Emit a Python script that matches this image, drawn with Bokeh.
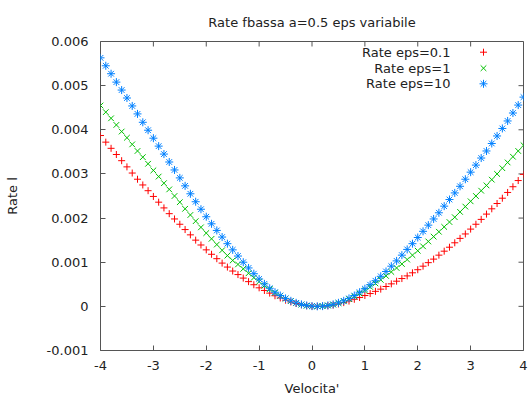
from bokeh.plotting import figure
from bokeh.models import (ColumnDataSource, LinearAxis, FixedTicker,
                          CustomJSTickFormatter, Range1d)
from bokeh.embed import file_html
from bokeh.resources import INLINE
from bokeh.core.properties import value

# ---------------- data ----------------
velocity = [-4.0, -3.9, -3.8, -3.7, -3.6, -3.5, -3.4, -3.3, -3.2, -3.1,
            -3.0, -2.9, -2.8, -2.7, -2.6, -2.5, -2.4, -2.3, -2.2, -2.1,
            -2.0, -1.9, -1.8, -1.7, -1.6, -1.5, -1.4, -1.3, -1.2, -1.1,
            -1.0, -0.9, -0.8, -0.7, -0.6, -0.5, -0.4, -0.3, -0.2, -0.1,
            0.0,
            0.1, 0.2, 0.3, 0.4, 0.5, 0.6, 0.7, 0.8, 0.9, 1.0,
            1.1, 1.2, 1.3, 1.4, 1.5, 1.6, 1.7, 1.8, 1.9, 2.0,
            2.1, 2.2, 2.3, 2.4, 2.5, 2.6, 2.7, 2.8, 2.9, 3.0,
            3.1, 3.2, 3.3, 3.4, 3.5, 3.6, 3.7, 3.8, 3.9, 4.0]

# rates in units of 1e-3
rate_eps01_milli = [3.87, 3.72, 3.58, 3.44, 3.30, 3.16, 3.02, 2.88, 2.75, 2.62,
                    2.49, 2.36, 2.23, 2.10, 1.98, 1.86, 1.74, 1.62, 1.50, 1.39,
                    1.28, 1.18, 1.08, 0.98, 0.89, 0.80, 0.72, 0.64, 0.56, 0.49,
                    0.42, 0.36, 0.30, 0.24, 0.19, 0.14, 0.10, 0.065, 0.035, 0.015,
                    0.004,
                    0.0, 0.004, 0.015, 0.03, 0.055, 0.085, 0.12, 0.16, 0.20, 0.245,
                    0.29, 0.34, 0.39, 0.45, 0.51, 0.57, 0.63, 0.69, 0.76, 0.83,
                    0.91, 0.99, 1.07, 1.16, 1.25, 1.34, 1.44, 1.54, 1.64, 1.75,
                    1.86, 1.97, 2.09, 2.21, 2.33, 2.45, 2.58, 2.71, 2.85, 2.99]

rate_eps1_milli = [4.55, 4.40, 4.26, 4.11, 3.96, 3.82, 3.67, 3.52, 3.38, 3.23,
                   3.08, 2.94, 2.79, 2.65, 2.50, 2.36, 2.21, 2.07, 1.93, 1.79,
                   1.66, 1.53, 1.40, 1.27, 1.15, 1.04, 0.95, 0.85, 0.75, 0.65,
                   0.56, 0.47, 0.39, 0.31, 0.24, 0.175, 0.12, 0.075, 0.04, 0.015,
                   0.004,
                   0.0, 0.005, 0.02, 0.04, 0.075, 0.115, 0.165, 0.225, 0.29, 0.36,
                   0.44, 0.52, 0.60, 0.69, 0.78, 0.87, 0.96, 1.06, 1.16, 1.26,
                   1.36, 1.47, 1.58, 1.69, 1.80, 1.91, 2.02, 2.14, 2.26, 2.38,
                   2.50, 2.62, 2.74, 2.87, 3.00, 3.13, 3.26, 3.39, 3.52, 3.65]

rate_eps10_milli = [5.63, 5.45, 5.27, 5.08, 4.90, 4.72, 4.54, 4.36, 4.17, 3.99,
                    3.81, 3.63, 3.45, 3.27, 3.09, 2.91, 2.73, 2.55, 2.37, 2.20,
                    2.03, 1.87, 1.72, 1.57, 1.42, 1.28, 1.14, 1.00, 0.87, 0.74,
                    0.62, 0.51, 0.41, 0.32, 0.245, 0.18, 0.125, 0.08, 0.045, 0.02,
                    0.005,
                    0.0, 0.005, 0.02, 0.045, 0.08, 0.125, 0.18, 0.245, 0.32, 0.40,
                    0.49, 0.58, 0.68, 0.79, 0.91, 1.03, 1.16, 1.29, 1.42, 1.56,
                    1.70, 1.84, 1.98, 2.12, 2.27, 2.42, 2.57, 2.72, 2.88, 3.04,
                    3.20, 3.36, 3.52, 3.69, 3.86, 4.03, 4.20, 4.38, 4.56, 4.74]

series_labels = ["Rate eps=0.1", "Rate eps=1", "Rate eps=10"]
x_ticks = [-4, -3, -2, -1, 0, 1, 2, 3, 4]
y_ticks = [-0.001, 0.0, 0.001, 0.002, 0.003, 0.004, 0.005, 0.006]

title_text = "Rate fbassa a=0.5 eps variabile"
x_label = "Velocita'"
y_label = "Rate l"

# ---------------- styling ----------------
FONT = "DejaVu Sans"
TXT = "#222222"
FRAME = "#555555"
colors = ["#ff0000", "#00c000", "#0080ff"]
markers = ["cross", "x", "asterisk"]
sizes = [7, 8, 8]
TICK = 5

W, H = 529, 399
ML, MR, MT, MB = 100, 6, 41, 49

p = figure(width=W, height=H, output_backend="svg", toolbar_location=None,
           x_range=Range1d(-4, 4), y_range=Range1d(-0.001, 0.006),
           min_border_left=ML, min_border_right=MR,
           min_border_top=MT, min_border_bottom=MB,
           x_axis_location=None, y_axis_location=None)
p.xgrid.visible = False
p.ygrid.visible = False
p.outline_line_color = FRAME
p.outline_line_width = 1
p.background_fill_color = "white"
p.border_fill_color = "white"

p.title.text = title_text
p.title.align = "center"
p.title.text_font = FONT
p.title.text_font_size = "13px"
p.title.text_font_style = "normal"
p.title.text_color = TXT
p.title.standoff = 23

def style_axis(ax):
    ax.axis_line_color = None
    ax.major_tick_in = TICK
    ax.major_tick_out = 0
    ax.major_tick_line_color = FRAME
    ax.minor_tick_line_color = None
    ax.major_label_text_font = FONT
    ax.major_label_text_font_size = "13px"
    ax.major_label_text_color = TXT
    ax.axis_label_text_font = FONT
    ax.axis_label_text_font_size = "13px"
    ax.axis_label_text_font_style = "normal"
    ax.axis_label_text_color = TXT

xfmt = CustomJSTickFormatter(code="return String(Math.round(tick));")
yfmt = CustomJSTickFormatter(code="return Math.abs(tick) < 1e-12 ? '0' : tick.toFixed(3);")

bottom = LinearAxis(ticker=FixedTicker(ticks=x_ticks), formatter=xfmt, axis_label=x_label)
style_axis(bottom)
bottom.major_label_standoff = 10
bottom.axis_label_standoff = 8
p.add_layout(bottom, "below")

left = LinearAxis(ticker=FixedTicker(ticks=y_ticks), formatter=yfmt, axis_label=y_label)
style_axis(left)
left.major_label_standoff = 12
left.axis_label_standoff = 24
p.add_layout(left, "left")

# ---------------- frame-pixel helper ranges ----------------
frame_w = W - ML - MR
frame_h = H - MT - MB
p.extra_x_ranges = {"kx": Range1d(0, frame_w)}
p.extra_y_ranges = {"ky": Range1d(0, frame_h)}

# mirrored inward ticks on the top and right edges (gnuplot style box)
p.segment(x0=x_ticks, x1=x_ticks, y0=[frame_h] * len(x_ticks),
          y1=[frame_h - TICK] * len(x_ticks), y_range_name="ky",
          line_color=FRAME, line_width=1)
p.segment(x0=[frame_w] * len(y_ticks), x1=[frame_w - TICK] * len(y_ticks),
          y0=y_ticks, y1=y_ticks, x_range_name="kx",
          line_color=FRAME, line_width=1)

# ---------------- data marks ----------------
source = ColumnDataSource(dict(
    v=velocity,
    r01=[r * 1e-3 for r in rate_eps01_milli],
    r1=[r * 1e-3 for r in rate_eps1_milli],
    r10=[r * 1e-3 for r in rate_eps10_milli],
))
for col, c, m, s in zip(["r01", "r1", "r10"], colors, markers, sizes):
    p.scatter(x="v", y=col, source=source, marker=m, size=s,
              line_color=c, fill_color=None, line_width=1)

# ---------------- gnuplot-like key (text right-aligned, symbol on the right) ----------------
key_text_x = 350
key_sym_x = 383
key_rows = [frame_h - 10.7, frame_h - 26.7, frame_h - 42.3]
p.text(x=[key_text_x] * 3, y=key_rows, text=series_labels,
       x_range_name="kx", y_range_name="ky",
       text_align="right", text_baseline="middle",
       text_font=value(FONT), text_font_size="13px", text_color=TXT)
for yk, c, m, s in zip(key_rows, colors, markers, sizes):
    p.scatter(x=[key_sym_x], y=[yk], marker=m, size=s, line_color=c,
              fill_color=None, line_width=1,
              x_range_name="kx", y_range_name="ky")

open("out.html", "w").write(file_html(p, INLINE))
